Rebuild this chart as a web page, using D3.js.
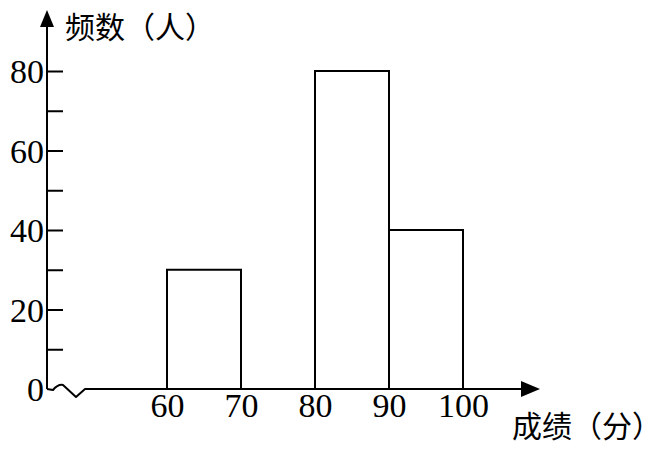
<!DOCTYPE html>
<html>
<head>
<meta charset="utf-8">
<title>频数分布直方图</title>
<script src="https://cdn.jsdelivr.net/npm/d3@7"></script>
<style>
    body{ margin:0; background:#fff; }
    svg{ display:block; }
    .num{ font-family:"Liberation Serif","DejaVu Serif",serif; font-size:34px; fill:#000; }
    .cn{ font-family:"Noto Sans CJK SC",sans-serif; font-size:30px; fill:#000; }
</style>
</head>
<body>
<svg width="670" height="449"></svg>
<script>
// 数据
var bins = [60, 70, 80, 90, 100];     // 分组边界（成绩）
var counts = [30, 0, 80, 40];          // 各组频数
var yTicks = [0, 10, 20, 30, 40, 50, 60, 70, 80];
var yLabels = [0, 20, 40, 60, 80];

var svg = d3.select("svg");

var x = d3.scaleLinear().domain([60, 100]).range([167, 463]);
var y = d3.scaleLinear().domain([0, 80]).range([389, 71]);
var x0 = 47; // 纵轴位置

// 直方图矩形
svg.selectAll("rect.bar")
    .data(counts.map(function(c, i){ return {lo: bins[i], hi: bins[i+1], n: c}; }).filter(function(d){ return d.n > 0; }))
    .enter()
    .append("rect")
    .attr("class", "bar")
    .attr("x", function(d){ return x(d.lo); })
    .attr("y", function(d){ return y(d.n); })
    .attr("width", function(d){ return x(d.hi) - x(d.lo); })
    .attr("height", function(d){ return y(0) - y(d.n); })
    .attr("fill", "none")
    .attr("stroke", "#000")
    .attr("stroke-width", 2);

// 纵轴刻度
var yAxis = d3.axisLeft(y)
    .tickValues(yTicks)
    .tickSize(-16)
    .tickPadding(3)
    .tickFormat(function(d){ return yLabels.indexOf(d) >= 0 ? d : ""; });
var gy = svg.append("g").attr("transform", "translate(" + x0 + ",0)").call(yAxis);
gy.select(".domain").remove();
gy.selectAll(".tick line").attr("stroke", "#000").attr("stroke-width", 2)
    .filter(function(d){ return d === 0; }).remove();
gy.selectAll(".tick text").attr("class", "num").attr("font-family", null).attr("font-size", null)
    .attr("dy", "0.34em").attr("fill", "#000");

// 横轴刻度
var xAxis = d3.axisBottom(x).tickValues(bins).tickSize(0).tickPadding(4);
var gx = svg.append("g").attr("transform", "translate(0," + y(0) + ")").call(xAxis);
gx.select(".domain").remove();
gx.selectAll(".tick text").attr("class", "num").attr("font-family", null).attr("font-size", null)
    .attr("dy", "0.7em").attr("fill", "#000");

// 坐标轴线
svg.append("line")
    .attr("x1", x0).attr("y1", y(0)).attr("x2", x0).attr("y2", 24)
    .attr("stroke", "#000").attr("stroke-width", 2);
svg.append("path")
    .attr("d", "M" + x0 + ",10 L" + (x0 - 7) + ",27 L" + (x0 + 7) + ",27 Z")
    .attr("fill", "#000");

// 横轴（含折线断开符号）
var yb = y(0);
svg.append("path")
    .attr("d", "M" + x0 + "," + yb + " L53," + (yb + 1) + " Q58," + (yb - 5) + " 63," + (yb - 4) +
               " L76," + (yb + 8) + " L85," + yb + " L524," + yb)
    .attr("fill", "none").attr("stroke", "#000").attr("stroke-width", 2)
    .attr("stroke-linejoin", "round");
svg.append("path")
    .attr("d", "M540," + yb + " L521," + (yb - 8) + " L521," + (yb + 8) + " Z")
    .attr("fill", "#000");

// 轴标题
svg.append("text").attr("class", "cn").attr("x", 65).attr("y", 38).text("频数（人）");
svg.append("text").attr("class", "cn").attr("x", 512).attr("y", 437).text("成绩（分）");
</script>
</body>
</html>
